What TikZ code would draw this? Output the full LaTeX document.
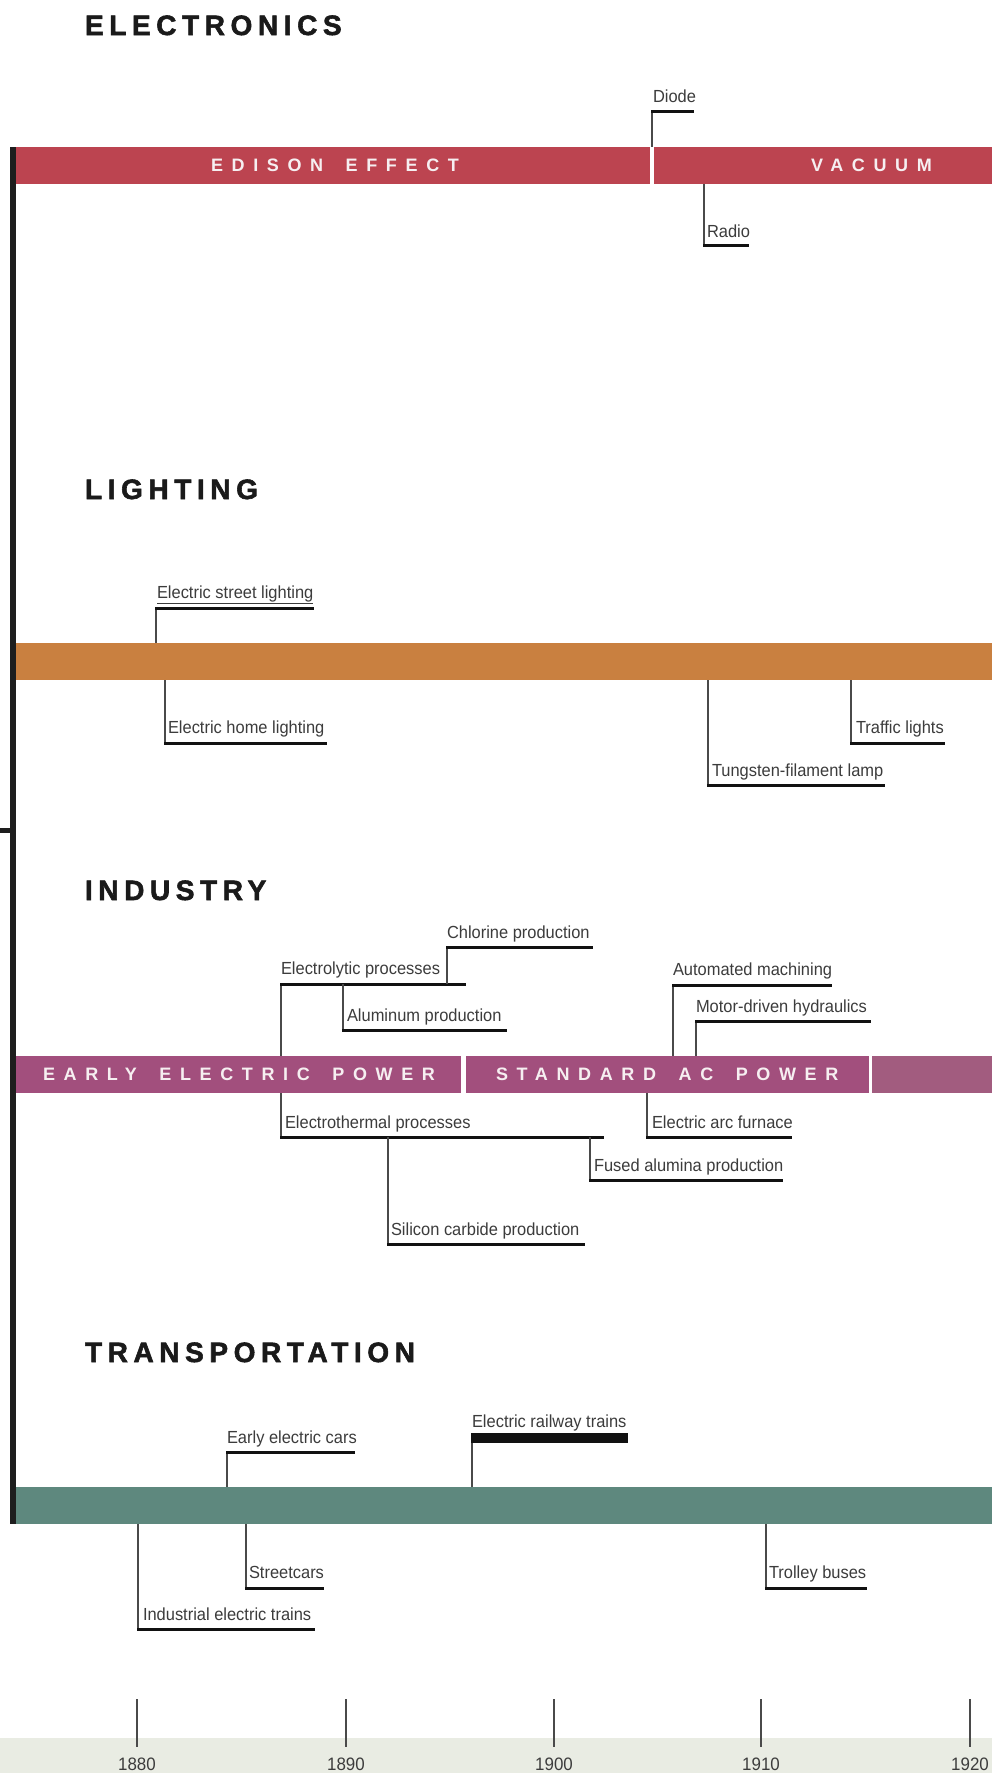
\documentclass[tikz,border=0pt]{standalone}
\usepackage{fontspec}
\setmainfont{Liberation Sans}
\newfontfamily\lblfont{Liberation Sans}[FakeStretch=0.94]
\newfontfamily\headfont{Liberation Sans}[UprightFont=* Bold,LetterSpace=20,FakeBold=2]
\newfontfamily\barfont{Liberation Sans}[LetterSpace=48,WordSpace=1.65]
\definecolor{redbar}{HTML}{BC4450}
\definecolor{orangebar}{HTML}{C98040}
\definecolor{magbar}{HTML}{A24F7D}
\definecolor{magbarb}{HTML}{A25C7F}
\definecolor{greenbar}{HTML}{5E887E}
\definecolor{txt}{HTML}{3C3C3C}
\definecolor{shelfc}{HTML}{111111}
\definecolor{stemc}{HTML}{4A4A4A}
\definecolor{headc}{HTML}{1A1A1A}
\definecolor{bandc}{HTML}{E9ECE3}
\definecolor{axisc}{HTML}{1E1E1E}
\definecolor{bartxt}{HTML}{F6EFF1}
\begin{document}
\begin{tikzpicture}[x=1pt,y=-1pt,
  every node/.style={inner sep=0pt,outer sep=0pt},
  lbl/.style={font=\lblfont\fontsize{17.5}{20}\selectfont,text=txt,anchor=base west},
  yearlbl/.style={font=\lblfont\fontsize{18}{20}\selectfont,text=txt,anchor=base},
  head/.style={font=\headfont\fontsize{28}{32}\selectfont,text=headc,anchor=base west},
  bartext/.style={font=\barfont\bfseries\fontsize{18}{20}\selectfont,text=bartxt,anchor=base west},
  band/.style={draw=none,anchor=north west,minimum height=37pt},
  shelf/.style={line width=3pt,draw=shelfc},
  thickshelf/.style={line width=10pt,draw=shelfc},
  stem/.style={line width=1.3pt,draw=stemc},
  tickmark/.style={line width=2.5pt,draw=stemc},
  axis/.style={line width=6pt,draw=axisc}]
% background and page size
\fill[white] (0,0) rectangle (992,1773);
\useasboundingbox (0,0) rectangle (992,1773);
\fill[bandc] (0,1738) rectangle (992,1773);

% ---------- headings ----------
\node[head] (hElec) at (85,35) {ELECTRONICS};
\node[head] (hLight) at (85,499) {LIGHTING};
\node[head] (hInd) at (85,900) {INDUSTRY};
\node[head] (hTrans) at (85,1362) {TRANSPORTATION};

% ---------- bars ----------
\node[band,fill=redbar,minimum width=637pt] (edison) at (13,147) {};
\node[band,fill=redbar,minimum width=338pt] (vacuum) at (654,147) {};
\node[band,fill=orangebar,minimum width=979pt] (light) at (13,643) {};
\node[band,fill=magbar,minimum width=448pt] (early) at (13,1056) {};
\node[band,fill=magbar,minimum width=403pt] (stdac) at (466,1056) {};
\node[band,fill=magbarb,minimum width=120pt] (later) at (872,1056) {};
\node[band,fill=greenbar,minimum width=979pt] (trans) at (13,1487) {};

\node[bartext] (tEdison) at (211,171) {EDISON EFFECT};
\node[bartext] (tVacuum) at (811,171) {VACUUM};
\node[bartext] (tEarly) at (43,1080) {EARLY ELECTRIC POWER};
\node[bartext] (tStd) at (496,1080) {STANDARD AC POWER};

% ---------- left axis ----------
\coordinate (axTop) at (13,147);
\coordinate (axBot) at (13,1524);
\coordinate (stubL) at (0,830);
\coordinate (stubR) at (13,830);
\draw[axis] (axTop) -- (axBot);
\draw[line width=5pt,draw=axisc] (stubL) -- (stubR);

% ---------- electronics ----------
\node[lbl] (diode) at (653,102) {Diode};
\coordinate (diodeS) at (652,111); \coordinate (diodeE) at (694,111);
\draw[stem] (diodeS) -- (diodeS |- edison.north);
\draw[shelf] ([xshift=-0.7pt]diodeS) -- (diodeE);

\node[lbl] (radio) at (707,237) {Radio};
\coordinate (radioS) at (704,245); \coordinate (radioE) at (749,245);
\draw[stem] (radioS |- vacuum.south) -- (radioS);
\draw[shelf] ([xshift=-0.7pt]radioS) -- (radioE);

% ---------- lighting ----------
\node[lbl] (street) at (157,598) {\underline{Electric street lighting}};
\coordinate (streetS) at (156,608); \coordinate (streetE) at (314,608);
\draw[stem] (streetS) -- (streetS |- light.north);
\draw[shelf] ([xshift=-0.7pt]streetS) -- (streetE);

\node[lbl] (home) at (168,733) {Electric home lighting};
\coordinate (homeS) at (165,743); \coordinate (homeE) at (327,743);
\draw[stem] (homeS |- light.south) -- (homeS);
\draw[shelf] ([xshift=-0.7pt]homeS) -- (homeE);

\node[lbl] (tung) at (712,776) {Tungsten-filament lamp};
\coordinate (tungS) at (708,785); \coordinate (tungE) at (885,785);
\draw[stem] (tungS |- light.south) -- (tungS);
\draw[shelf] ([xshift=-0.7pt]tungS) -- (tungE);

\node[lbl] (traffic) at (856,733) {Traffic lights};
\coordinate (trafS) at (851,743); \coordinate (trafE) at (945,743);
\draw[stem] (trafS |- light.south) -- (trafS);
\draw[shelf] ([xshift=-0.7pt]trafS) -- (trafE);

% ---------- industry ----------
\node[lbl] (elytic) at (281,974) {Electrolytic processes};
\coordinate (elyS) at (281,984); \coordinate (elyE) at (466,984);
\draw[stem] (elyS) -- (elyS |- early.north);
\draw[shelf] ([xshift=-0.7pt]elyS) -- (elyE);

\node[lbl] (chlor) at (447,938) {Chlorine production};
\coordinate (chlS) at (447,947); \coordinate (chlE) at (593,947);
\coordinate (chlB) at (447,984);
\draw[stem] (chlB) -- (chlS);
\draw[shelf] ([xshift=-0.7pt]chlS) -- (chlE);

\node[lbl] (alum) at (347,1021) {Aluminum production};
\coordinate (aluS) at (343,1030); \coordinate (aluE) at (507,1030);
\coordinate (aluB) at (343,984);
\draw[stem] (aluB) -- (aluS);
\draw[shelf] ([xshift=-0.7pt]aluS) -- (aluE);

\node[lbl] (auto) at (673,975) {Automated machining};
\coordinate (autoS) at (673,985); \coordinate (autoE) at (832,985);
\draw[stem] (autoS) -- (autoS |- stdac.north);
\draw[shelf] ([xshift=-0.7pt]autoS) -- (autoE);

\node[lbl] (motor) at (696,1012) {Motor-driven hydraulics};
\coordinate (motS) at (696,1021); \coordinate (motE) at (871,1021);
\draw[stem] (motS) -- (motS |- stdac.north);
\draw[shelf] ([xshift=-0.7pt]motS) -- (motE);

\node[lbl] (ethermal) at (285,1128) {Electrothermal processes};
\coordinate (ethS) at (281,1137); \coordinate (ethE) at (604,1137);
\draw[stem] (ethS |- early.south) -- (ethS);
\draw[shelf] ([xshift=-0.7pt]ethS) -- (ethE);

\node[lbl] (silicon) at (391,1235) {Silicon carbide production};
\coordinate (silS) at (388,1244); \coordinate (silE) at (585,1244);
\coordinate (silB) at (388,1137);
\draw[stem] (silB) -- (silS);
\draw[shelf] ([xshift=-0.7pt]silS) -- (silE);

\node[lbl] (fused) at (594,1171) {Fused alumina production};
\coordinate (fusS) at (590,1180); \coordinate (fusE) at (783,1180);
\coordinate (fusB) at (590,1137);
\draw[stem] (fusB) -- (fusS);
\draw[shelf] ([xshift=-0.7pt]fusS) -- (fusE);

\node[lbl] (arc) at (652,1128) {Electric arc furnace};
\coordinate (arcS) at (647,1137); \coordinate (arcE) at (792,1137);
\draw[stem] (arcS |- stdac.south) -- (arcS);
\draw[shelf] ([xshift=-0.7pt]arcS) -- (arcE);

% ---------- transportation ----------
\node[lbl] (cars) at (227,1443) {Early electric cars};
\coordinate (carS) at (227,1452); \coordinate (carE) at (355,1452);
\draw[stem] (carS) -- (carS |- trans.north);
\draw[shelf] ([xshift=-0.7pt]carS) -- (carE);

\node[lbl] (rail) at (472,1427) {Electric railway trains};
\coordinate (railS) at (472,1438); \coordinate (railE) at (628,1438);
\draw[stem] (railS) -- (railS |- trans.north);
\draw[thickshelf] ([xshift=-0.7pt]railS) -- (railE);

\node[lbl] (street2) at (249,1578) {Streetcars};
\coordinate (scS) at (246,1588); \coordinate (scE) at (324,1588);
\draw[stem] (scS |- trans.south) -- (scS);
\draw[shelf] ([xshift=-0.7pt]scS) -- (scE);

\node[lbl] (indtr) at (143,1620) {Industrial electric trains};
\coordinate (itS) at (138,1629); \coordinate (itE) at (315,1629);
\draw[stem] (itS |- trans.south) -- (itS);
\draw[shelf] ([xshift=-0.7pt]itS) -- (itE);

\node[lbl] (trolley) at (769,1578) {Trolley buses};
\coordinate (trS) at (766,1588); \coordinate (trE) at (867,1588);
\draw[stem] (trS |- trans.south) -- (trS);
\draw[shelf] ([xshift=-0.7pt]trS) -- (trE);

% ---------- year axis ----------
\foreach \yr/\xx in {1880/137,1890/346,1900/554,1910/761,1920/970}{
  \coordinate (tk\yr) at (\xx,1699);
  \node[yearlbl] (yl\yr) at (\xx,1770) {\yr};
  \draw[tickmark] (tk\yr) -- ++(0,48);
}
\end{tikzpicture}
\end{document}
